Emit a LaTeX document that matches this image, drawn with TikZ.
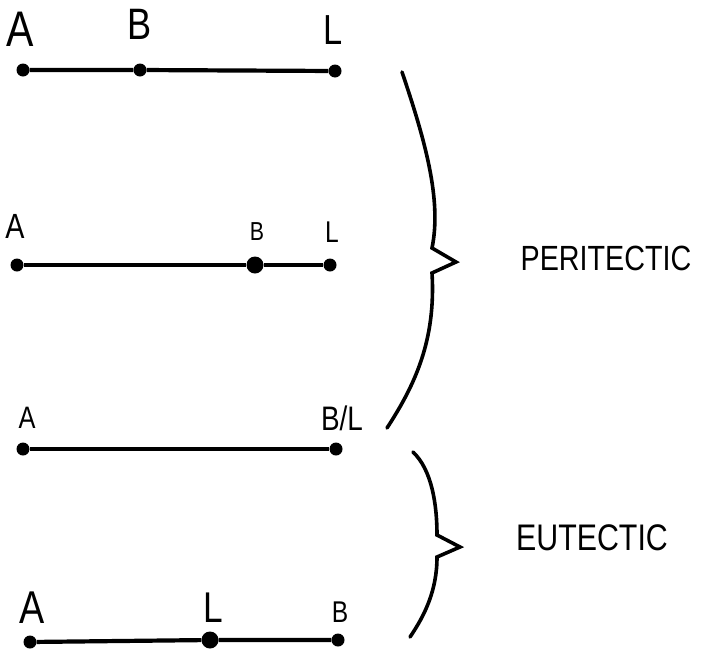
\documentclass[tikz,border=0pt]{standalone}
\usepackage{fontspec}
\setsansfont{Liberation Sans}[FakeStretch=0.82]
\tikzset{
  ptdot/.style={circle, fill, inner sep=0pt, minimum size=13pt},
  bigdot/.style={ptdot, minimum size=17pt},
  lbl/.style={font=\sffamily\fontsize{#1}{#1}\selectfont, inner sep=0pt},
  lbl/.default=40,
  bar/.style={line width=4.2pt},
  brace/.style={line width=3.6pt, line cap=round, line join=miter}
}
\begin{document}
\begin{tikzpicture}[x=1pt, y=-1pt]
    \useasboundingbox (0,0) rectangle (712,651);

    % Fila 1: A, B e L.
    \node[ptdot] (a1) at (23,70) {};
    \node[ptdot] (b1) at (140,70) {};
    \node[ptdot] (l1) at (335,71) {};
    \draw[bar] (a1) -- (b1) -- (l1);
    \node[lbl=50] (ta1) at (20,29) {A};
    \node[lbl=44] (tb1) at (140,24) {B};
    \node[lbl=42] (tl1) at (333,30) {L};

    % Fila 2: B perto de L.
    \node[ptdot] (a2) at (17,265) {};
    \node[bigdot] (b2) at (255,265) {};
    \node[ptdot] (l2) at (330,265) {};
    \draw[bar] (a2) -- (b2) -- (l2);
    \node[lbl=35] (ta2) at (15,226) {A};
    \node[lbl=26] (tb2) at (257,232) {B};
    \node[lbl=30] (tl2) at (332,232) {L};

    % Fila 3: B e L juntos.
    \node[ptdot] (a3) at (23,449) {};
    \node[ptdot] (bl3) at (336,449) {};
    \draw[bar] (a3) -- (bl3);
    \node[lbl=31] (ta3) at (27,418) {A};
    \node[lbl=34, anchor=base] (tbl3) at (342,430) {B/L};

    % Fila 4: L entre A e B.
    \node[ptdot] (a4) at (30,642) {};
    \node[bigdot] (l4) at (210,640) {};
    \node[ptdot] (b4) at (338,640) {};
    \draw[bar] (a4) -- (l4) -- (b4);
    \node[lbl=46] (ta4) at (32,608) {A};
    \node[lbl=43] (tl4) at (213,608) {L};
    \node[lbl=30] (tb4) at (340,612) {B};

    % Chaves.
    \draw[brace] (402,72) .. controls (425,140) and (442,200) .. (432,248)
      -- (456,262) -- (432,273)
      .. controls (436,340) and (415,385) .. (387,428);
    \draw[brace] (413,452) .. controls (432,470) and (437,505) .. (437,535)
      -- (460,547) -- (437,557)
      .. controls (437,590) and (425,615) .. (410,637);

    \node[lbl=35] (peri) at (606,258) {PERITECTIC};
    \node[lbl=37] (eute) at (592,538) {EUTECTIC};
  \end{tikzpicture}
\end{document}
